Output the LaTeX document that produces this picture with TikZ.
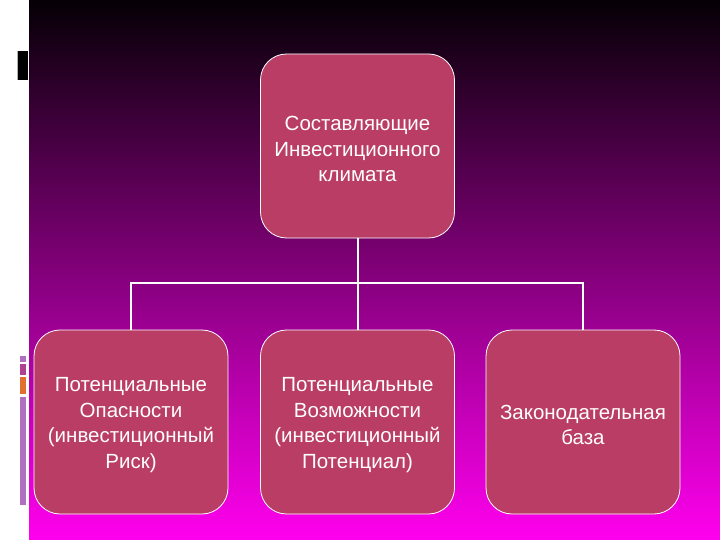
\documentclass[tikz,border=0pt]{standalone}
\usepackage{fontspec}
\setmainfont{Liberation Sans}
\definecolor{boxfill}{RGB}{185,61,101}
\definecolor{bgtop}{RGB}{5,0,5}
\definecolor{bgbot}{RGB}{255,0,238}
\definecolor{barlight}{RGB}{176,112,192}
\definecolor{barmag}{RGB}{176,64,144}
\definecolor{barorange}{RGB}{224,112,48}
\newcommand{\mytopgap}{\rule{0pt}{20.5pt}}
\tikzset{
  box/.style={draw=white, line width=0.8pt, fill=boxfill, rounded corners=26pt,
    minimum width=194pt, minimum height=184pt, inner sep=0pt,
    text=white, align=center, font=\fontsize{20.5}{25.5}\selectfont, text width=192pt},
  link/.style={draw=white, line width=2pt}
}
\begin{document}
\begin{tikzpicture}[x=1pt,y=-1pt]
\useasboundingbox (0,0) rectangle (720,540);
\fill[white] (0,0) rectangle (720,540);
\shade[top color=bgtop, bottom color=bgbot] (29,0) rectangle (720,540);
% left decorations
\fill[black] (18,51) rectangle (28,80);
\draw[gray!60, line width=0.8pt] (17.5,51) -- (17.5,80);
\fill[barlight] (20,356) rectangle (26,362);
\fill[barmag] (20,364) rectangle (26,375);
\fill[barorange] (20,377) rectangle (26,394);
\fill[barlight] (20,397) rectangle (26,505);
% nodes
\node[box] (root) at (357.5,146) {\mytopgap Составляющие\\Инвестиционного\\климата};
\node[box] (risk) at (131,422) {\mytopgap Потенциальные\\Опасности \\(инвестиционный\\Риск)};
\node[box] (pot) at (357.5,422) {\mytopgap Потенциальные\\Возможности\\(инвестиционный\\Потенциал)};
\node[box] (law) at (583,422) {\mytopgap Законодательная\\база};
% connectors
\coordinate (bus) at (357.5,283);
\draw[link] (root.south) -- (bus);
\draw[link] (risk.north) |- (bus) -| (law.north);
\draw[link] (bus) -- (pot.north);
\end{tikzpicture}
\end{document}
